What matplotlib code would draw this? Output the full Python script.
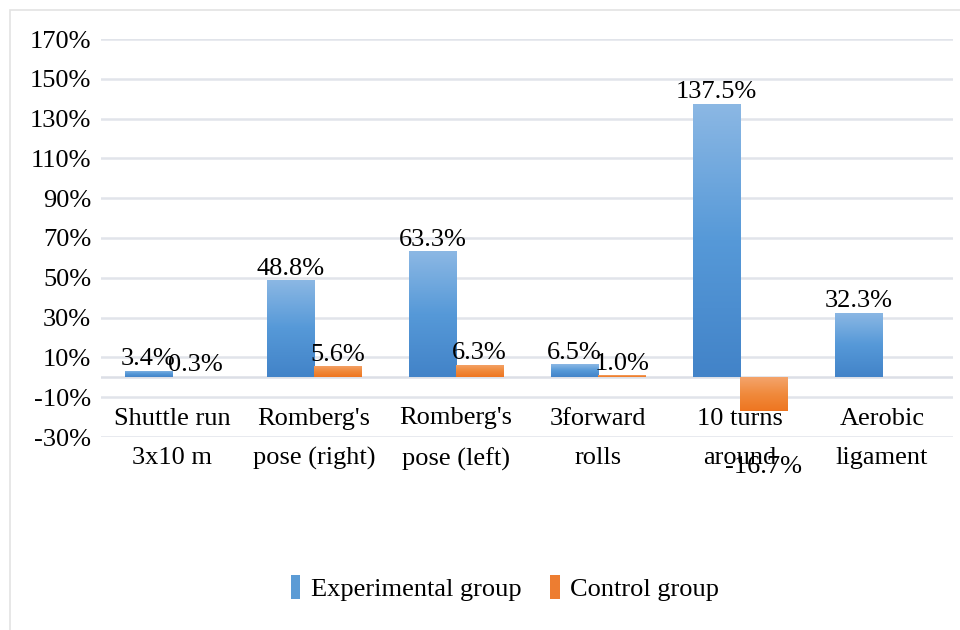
import matplotlib
matplotlib.use('Agg')
import matplotlib.pyplot as plt
import numpy as np
from matplotlib.colors import LinearSegmentedColormap
from matplotlib.patches import Rectangle, Patch

categories = ["Shuttle run\n3x10 m", "Romberg's\npose (right)", "Romberg's\npose (left)",
              "3forward\nrolls", "10 turns\naround", "Aerobic\nligament"]
experimental = [3.4, 48.8, 63.3, 6.5, 137.5, 32.3]
control = [0.3, 5.6, 6.3, 1.0, -16.7, np.nan]
series_names = ["Experimental group", "Control group"]
yticks = list(range(-30, 171, 20))

plt.rcParams['font.family'] = ['Liberation Serif', 'DejaVu Serif']
FS = 19

fig = plt.figure(figsize=(9.6, 6.3), dpi=100)
ax = fig.add_axes([101/960, 1-437/630, 852/960, 398/630])

blue_cmap = LinearSegmentedColormap.from_list('b', ['#4283c8', '#5699d8', '#8cb8e4'])
orange_cmap = LinearSegmentedColormap.from_list('o', ['#ee7520', '#f08a3c', '#f4a46c'])

x = np.arange(len(categories))
w = 1/3
bars_e = ax.bar(x - w/2, experimental, w, color='#5b9bd5', zorder=2)
bars_c = ax.bar(x + w/2, control, w, color='#ed7d31', zorder=2)

grad = np.linspace(1, 0, 256).reshape(-1, 1)
for bars, cmap in ((bars_e, blue_cmap), (bars_c, orange_cmap)):
    for b in bars:
        h = b.get_height()
        if not np.isfinite(h) or h == 0:
            continue
        x0 = b.get_x()
        x1 = x0 + b.get_width()
        ylo, yhi = min(0, h), max(0, h)
        im = ax.imshow(grad, cmap=cmap, extent=(x0, x1, ylo, yhi), aspect='auto',
                       origin='upper', zorder=3, interpolation='bilinear')
        im.set_clip_path(b)

for bars, vals in ((bars_e, experimental), (bars_c, control)):
    for b, v in zip(bars, vals):
        if not np.isfinite(v):
            continue
        cx = b.get_x() + b.get_width()/2
        if v >= 0:
            ax.annotate(f"{v:.1f}%", (cx, v), xytext=(0, 4), textcoords='offset points',
                        ha='center', va='baseline', fontsize=FS, zorder=5)
        else:
            ax.annotate(f"{v:.1f}%", (cx, v), xytext=(0, -41), textcoords='offset points',
                        ha='center', va='center', fontsize=FS, zorder=5)

for i, c in enumerate(categories):
    ax.text(i, -31, c, ha='center', va='center', fontsize=FS, linespacing=2.0, zorder=4)

ax.set_xlim(-0.5, len(categories) - 0.5)
ax.set_ylim(-30, 170)
ax.set_yticks(yticks)
ax.set_yticklabels([f"{v}%" for v in yticks], fontsize=FS)
ax.set_xticks([])
ax.tick_params(axis='y', length=0, pad=7)
for s in ax.spines.values():
    s.set_visible(False)
ax.grid(axis='y', color='#e1e4ea', lw=1.8, zorder=0)
ax.set_axisbelow(True)
ax.axhline(0, color='#dcdfe6', lw=1.8, zorder=1)

handles = [Patch(facecolor='#5b9bd5', edgecolor='none'), Patch(facecolor='#ed7d31', edgecolor='none')]
fig.legend(handles, series_names, loc='center', bbox_to_anchor=(505/960, 1-588/630), ncol=2,
           frameon=False, fontsize=FS, handlelength=0.35, handleheight=1.0,
           handletextpad=0.4, columnspacing=1.1)

fig.patches.append(Rectangle((10/960, -0.02), 1.0, 1 - 10/630 + 0.02, transform=fig.transFigure,
                             fill=False, edgecolor='#e3e3e3', lw=1.2))

fig.savefig('out.png', dpi=100)
